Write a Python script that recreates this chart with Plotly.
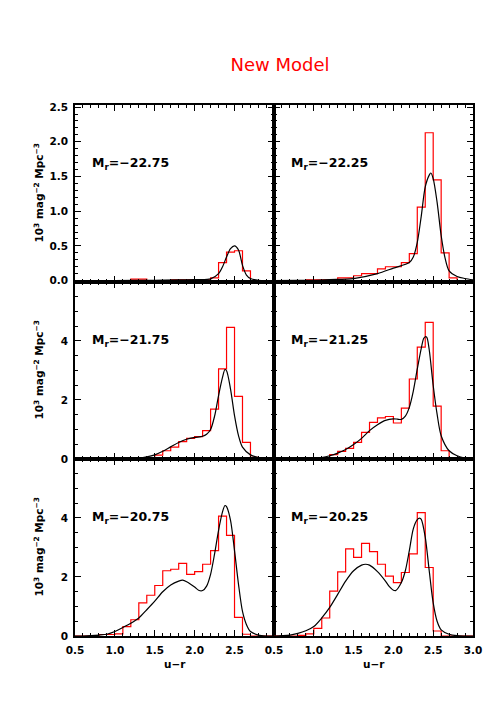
import plotly.graph_objects as go
from plotly.subplots import make_subplots

# bordes de los bins en u-r
bordes = [0.5, 0.6, 0.7, 0.8, 0.9, 1.0, 1.1, 1.2, 1.3, 1.4, 1.5, 1.6, 1.7,
          1.8, 1.9, 2.0, 2.1, 2.2, 2.3, 2.4, 2.5, 2.6, 2.7, 2.8, 2.9, 3.0]

# histogramas de datos (rojo), un valor por bin
hist_2275 = [0, 0, 0, 0, 0, 0, 0, 0.02, 0.02, 0, 0, 0, 0.01, 0.01, 0.01, 0.01,
             0.01, 0.04, 0.26, 0.41, 0.43, 0.14, 0, 0, 0]
hist_2225 = [0, 0, 0, 0, 0.01, 0.01, 0.01, 0.01, 0.04, 0.04, 0.07, 0.10, 0.10,
             0.17, 0.20, 0.20, 0.26, 0.39, 1.06, 2.13, 1.45, 0.40, 0.04, 0, 0]
hist_2175 = [0, 0, 0, 0, 0, 0, 0, 0.02, 0.02, 0.05, 0.13, 0.28, 0.40, 0.59,
             0.70, 0.76, 0.96, 1.69, 3.05, 4.46, 2.12, 0.56, 0.06, 0, 0]
hist_2125 = [0, 0, 0, 0, 0, 0.02, 0.05, 0.15, 0.26, 0.36, 0.56, 0.90, 1.24,
             1.39, 1.44, 1.22, 1.72, 2.71, 3.79, 4.63, 1.79, 0.28, 0, 0, 0]
hist_2075 = [0, 0, 0, 0.05, 0.05, 0.07, 0.32, 0.55, 1.12, 1.38, 1.71, 2.21,
             2.26, 2.46, 2.09, 2.18, 2.43, 2.89, 4.06, 3.41, 0.63, 0.06, 0, 0, 0]
hist_2025 = [0, 0, 0, 0.02, 0.07, 0.26, 0.61, 1.52, 2.17, 2.95, 2.66, 3.14,
             2.86, 2.43, 2.03, 1.81, 2.15, 2.78, 4.18, 2.32, 0.17, 0, 0, 0, 0]

# curvas del modelo (negro)
ur_2275 = [0.5, 1.0, 1.5, 1.8, 2.0, 2.2, 2.3, 2.35, 2.4, 2.45, 2.5, 2.55, 2.6,
           2.65, 2.7, 2.8, 2.9, 3.0]
mod_2275 = [0.0, 0.0, 0.005, 0.01, 0.015, 0.025, 0.1, 0.2, 0.34, 0.46, 0.50,
            0.44, 0.22, 0.08, 0.03, 0.005, 0.0, 0.0]

ur_2225 = [0.5, 0.8, 1.0, 1.2, 1.5, 1.8, 2.0, 2.2, 2.25, 2.3, 2.35, 2.4, 2.45,
           2.47, 2.5, 2.55, 2.6, 2.65, 2.7, 2.8, 2.9, 3.0]
mod_2225 = [0, 0.002, 0.005, 0.015, 0.03, 0.1, 0.18, 0.26, 0.34, 0.55, 0.93,
            1.35, 1.52, 1.55, 1.47, 1.12, 0.65, 0.32, 0.14, 0.06, 0.03, 0.01]

ur_2175 = [0.5, 0.9, 1.1, 1.2, 1.3, 1.4, 1.5, 1.6, 1.7, 1.8, 1.9, 2.0, 2.1,
           2.15, 2.2, 2.25, 2.3, 2.35, 2.38, 2.4, 2.45, 2.5, 2.55, 2.6, 2.7,
           2.8, 2.9, 3.0]
mod_2175 = [0, 0.0, 0.01, 0.02, 0.03, 0.07, 0.14, 0.26, 0.41, 0.56, 0.67, 0.73,
            0.77, 0.84, 1.0, 1.45, 2.15, 2.77, 3.03, 2.99, 2.37, 1.47, 0.79,
            0.40, 0.14, 0.05, 0.01, 0.0]

ur_2125 = [0.5, 0.8, 1.0, 1.1, 1.2, 1.3, 1.4, 1.5, 1.6, 1.7, 1.8, 1.9, 2.0,
           2.05, 2.1, 2.15, 2.2, 2.25, 2.3, 2.35, 2.38, 2.4, 2.42, 2.45, 2.5,
           2.55, 2.6, 2.7, 2.8, 2.9, 3.0]
mod_2125 = [0, 0, 0.02, 0.05, 0.11, 0.2, 0.32, 0.49, 0.70, 0.96, 1.16, 1.31,
            1.36, 1.35, 1.34, 1.45, 1.75, 2.3, 3.05, 3.75, 4.08, 4.14, 4.12,
            3.7, 2.49, 1.5, 0.79, 0.28, 0.11, 0.03, 0.0]

ur_2075 = [0.5, 0.6, 0.7, 0.8, 0.9, 1.0, 1.1, 1.2, 1.3, 1.4, 1.5, 1.6, 1.7,
           1.8, 1.85, 1.9, 2.0, 2.05, 2.1, 2.15, 2.2, 2.25, 2.3, 2.35, 2.38,
           2.4, 2.45, 2.5, 2.55, 2.6, 2.65, 2.7, 2.8, 2.9, 3.0]
mod_2075 = [0, 0.0, 0.01, 0.03, 0.06, 0.15, 0.29, 0.43, 0.61, 0.89, 1.18, 1.50,
            1.73, 1.86, 1.89, 1.84, 1.66, 1.55, 1.54, 1.69, 2.09, 2.78, 3.58,
            4.21, 4.42, 4.38, 3.92, 2.89, 1.75, 0.83, 0.38, 0.15, 0.03, 0.0, 0.0]

ur_2025 = [0.5, 0.6, 0.7, 0.8, 0.9, 1.0, 1.1, 1.2, 1.3, 1.4, 1.5, 1.6, 1.65,
           1.7, 1.8, 1.9, 1.95, 2.0, 2.03, 2.1, 2.15, 2.2, 2.25, 2.3, 2.33,
           2.35, 2.4, 2.45, 2.5, 2.55, 2.6, 2.7, 2.8, 2.9, 3.0]
mod_2025 = [0.0, 0.01, 0.03, 0.09, 0.18, 0.32, 0.61, 0.97, 1.41, 1.86, 2.21,
            2.40, 2.43, 2.40, 2.18, 1.86, 1.67, 1.55, 1.54, 1.81, 2.21, 2.89,
            3.63, 3.94, 3.99, 3.95, 3.35, 2.21, 1.12, 0.49, 0.21, 0.06, 0.01,
            0.0, 0.0]

paneles = [
    ("−22.75", hist_2275, ur_2275, mod_2275, 1, 1),
    ("−22.25", hist_2225, ur_2225, mod_2225, 1, 2),
    ("−21.75", hist_2175, ur_2175, mod_2175, 2, 1),
    ("−21.25", hist_2125, ur_2125, mod_2125, 2, 2),
    ("−20.75", hist_2075, ur_2075, mod_2075, 3, 1),
    ("−20.25", hist_2025, ur_2025, mod_2025, 3, 2),
]

fuente = "DejaVu Sans"

fig = make_subplots(rows=3, cols=2, horizontal_spacing=0, vertical_spacing=0)

for i, (mag, hist, ur, mod, fila, col) in enumerate(paneles):
    fig.add_trace(go.Scatter(
        x=bordes, y=hist + [hist[-1]], mode="lines", line_shape="hv",
        line=dict(color="#ff0000", width=1.2), showlegend=False
    ), row=fila, col=col)
    fig.add_trace(go.Scatter(
        x=ur, y=mod, mode="lines", line_shape="spline",
        line=dict(color="black", width=1.2, smoothing=0.8), showlegend=False
    ), row=fila, col=col)

    n = "" if i == 0 else str(i + 1)
    fig.add_annotation(
        text=f"M<sub>r</sub>={mag}", xref=f"x{n} domain", yref=f"y{n} domain",
        x=0.075, y=0.67, xanchor="left", yanchor="middle", showarrow=False,
        font=dict(family=fuente, size=12.5, color="black", weight="bold")
    )

eje = dict(
    showline=True, linecolor="black", linewidth=1.5, mirror="allticks",
    ticks="inside", ticklen=6, tickwidth=1.2, tickcolor="black",
    showgrid=False, zeroline=False,
    tickfont=dict(family=fuente, size=10.5, color="black", weight="bold"),
)

for fila in range(1, 4):
    for col in range(1, 3):
        rango_x = [0.5, 2.995] if col == 1 else [0.5, 3.0]
        fig.update_xaxes(
            eje, range=rango_x, tick0=0.5, dtick=0.5, tickformat=".1f",
            showticklabels=(fila == 3), ticklabelstandoff=4,
            minor=dict(ticks="inside", dtick=0.1, tick0=0.5, ticklen=3,
                       tickcolor="black", tickwidth=1),
            row=fila, col=col
        )
        if fila == 1:
            fig.update_yaxes(
                eje, range=[-0.02, 2.53], tick0=0, dtick=0.5, tickformat=".1f",
                minor=dict(ticks="inside", dtick=0.1, tick0=0, ticklen=3,
                           tickcolor="black", tickwidth=1),
                showticklabels=(col == 1), ticklabelstandoff=3,
                row=fila, col=col
            )
        else:
            fig.update_yaxes(
                eje, range=[0, 5.995], tick0=0, dtick=2,
                minor=dict(ticks="inside", dtick=0.5, tick0=0, ticklen=3,
                           tickcolor="black", tickwidth=1),
                showticklabels=(col == 1), ticklabelstandoff=3,
                row=fila, col=col
            )

# titulos de ejes
for ref in ["y", "y3", "y5"]:
    fig.add_annotation(
        text="10<sup>3</sup> mag<sup>−2</sup> Mpc<sup>−3</sup>",
        xref="paper", x=0, xshift=-37, yref=f"{ref} domain", y=0.5,
        textangle=-90, showarrow=False, xanchor="center", yanchor="middle",
        font=dict(family=fuente, size=10.5, color="black", weight="bold")
    )
for ref in ["x5", "x6"]:
    fig.add_annotation(
        text="u−r", xref=f"{ref} domain", x=0.5, yref="paper", y=0,
        yshift=-28, showarrow=False, xanchor="center", yanchor="middle",
        font=dict(family=fuente, size=10.5, color="black", weight="bold")
    )

# la pagina tiene 8 px de margen en body
fig.update_layout(
    width=490, height=700,
    margin=dict(l=67, r=25, t=97, b=72),
    paper_bgcolor="white", plot_bgcolor="white",
    title=dict(text="New Model", x=272 / 490, xanchor="center",
               y=1 - 57 / 700, yanchor="middle", yref="container",
               font=dict(family=fuente, size=18, color="#ff0000")),
)

fig.write_html("out.html")
